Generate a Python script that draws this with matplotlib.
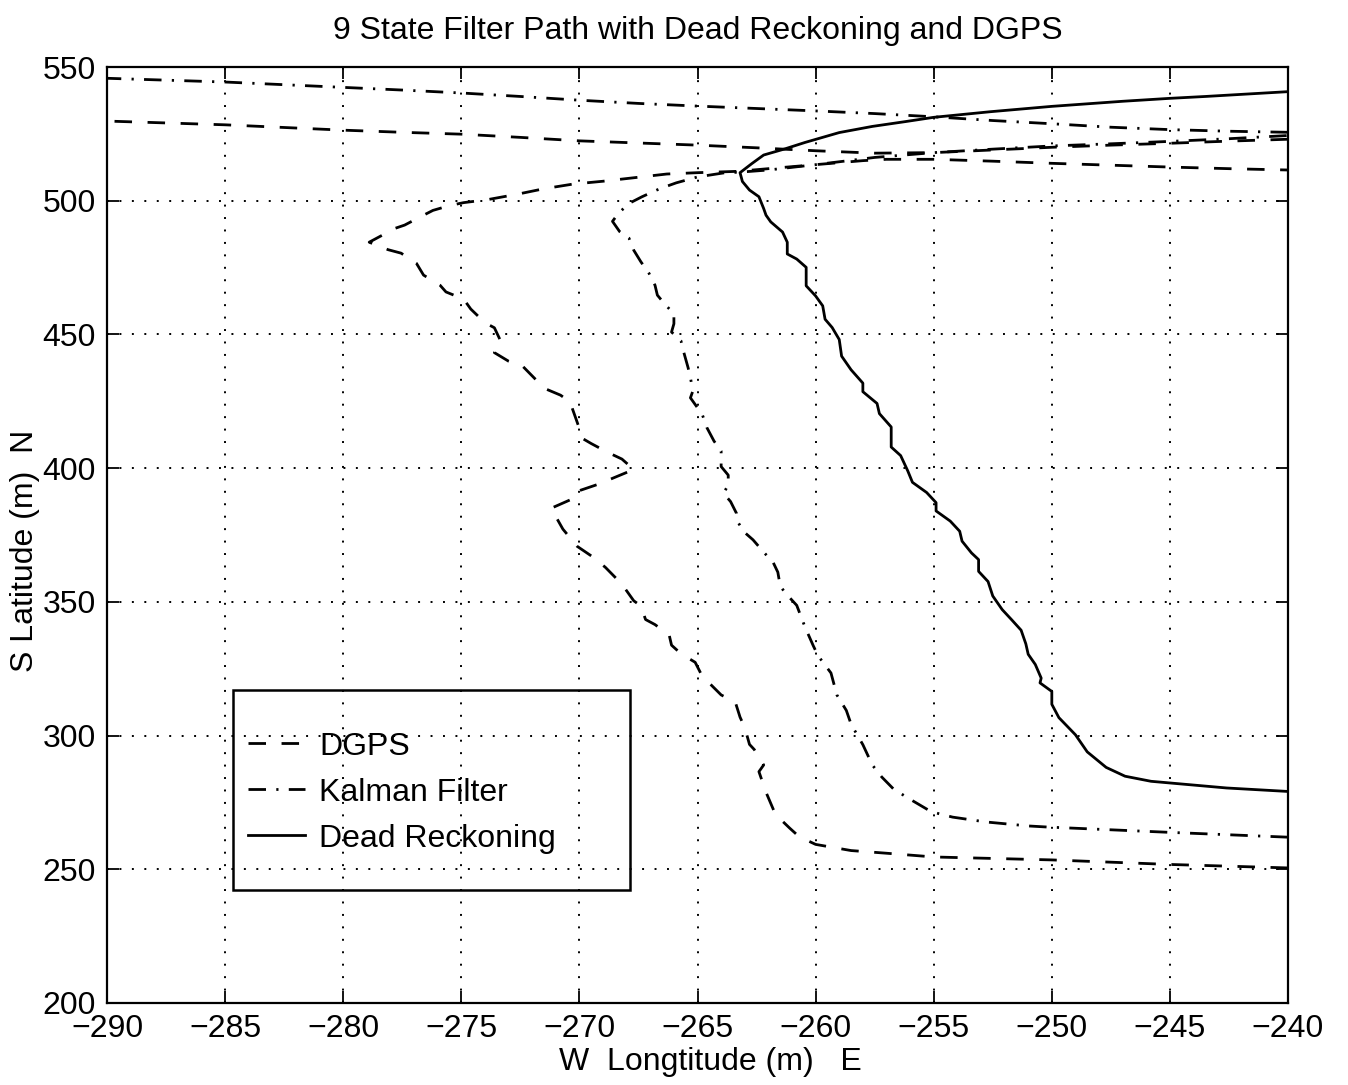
import numpy as np
import matplotlib
matplotlib.use('Agg')
import matplotlib.pyplot as plt
from matplotlib.patches import Rectangle

plt.rcParams['font.family'] = ['Liberation Sans', 'DejaVu Sans']

# -- DGPS track: southern approach, then the leg heading off to the east
dgps_x = [-240, -245, -250, -255, -257, -258.5, -260, -260.7, -261.1, -261.7,
          -262.1, -262.4, -262.2, -262.6, -262.8, -263.0, -263.2, -263.4, -264.0, -264.5,
          -264.8, -265.1, -265.7, -266.1, -266.2, -266.8, -267.2, -267.4, -267.7, -268.2,
          -268.9, -269.4, -270.1, -270.7, -271.2, -270.3, -270.2, -269.2, -267.7, -268.2,
          -268.8, -269.5, -269.85, -270.1, -270.2, -270.4, -270.8, -271.5, -271.9, -272.4,
          -273.0, -273.6, -273.3, -273.6, -274.0, -274.6, -274.9, -275.65, -275.9, -276.6,
          -276.9, -277.55, -278.1, -278.9, -277.8, -277.4, -276.6, -276.2, -275.5, -274.9,
          -273.9, -272.6, -271.5, -270.3, -269.0, -267.7, -266.3, -265.0, -263.3, -262.0,
          -260.0, -258.0, -257.0, -255.0, -252.5, -250.0, -247.5, -245.0, -242.5, -240.0]
dgps_y = [250.5, 251.8, 253.5, 254.6, 256.0, 257.0, 259.3, 262.2, 265.4, 270.5,
          278.8, 286.5, 289.0, 294.8, 296.7, 303.0, 306.9, 312.5, 315.2, 319.6,
          322.2, 327.4, 330.6, 333.8, 337.6, 341.5, 343.4, 348.5, 350.4, 356.6,
          362.9, 366.6, 370.8, 377.2, 385.0, 388.5, 391.0, 394.0, 399.5, 403.4,
          405.9, 409.2, 411.0, 417.3, 419.8, 424.8, 427.3, 429.9, 433.6, 438.1,
          440.0, 443.2, 446.9, 452.5, 454.4, 459.5, 463.2, 465.9, 468.4, 472.2,
          476.6, 480.4, 481.7, 484.5, 489.7, 490.9, 494.6, 496.4, 498.2, 499.3,
          500.4, 502.5, 504.5, 506.2, 507.3, 508.6, 510.0, 510.5, 511.0, 512.0,
          513.5, 515.0, 515.5, 515.5, 514.8, 514.0, 513.3, 512.6, 512.0, 511.5]

# -- DGPS track coming back in from the east
dgps_ret_x = [-240, -242.5, -245, -247.5, -250, -252.5, -255, -257.5, -260, -262.5, -265,
              -267.5, -270, -272.5, -275, -277.5, -280, -282.5, -285, -287.5, -290]
dgps_ret_y = [523.0, 522.3, 521.5, 520.8, 520.0, 519.0, 518.0, 517.8, 518.7, 519.8, 520.8,
              521.6, 522.4, 523.7, 524.9, 525.6, 526.4, 527.4, 528.4, 529.1, 529.8]

# -- Kalman filter estimate
kf_x = [-240, -245, -250.2, -251.0, -252.8, -254.2, -255.1, -255.6, -256.1, -256.7,
        -257.2, -257.6, -258.0, -258.3, -258.5, -258.7, -259.1, -259.35, -259.9, -260.1,
        -260.45, -260.8, -261.3, -261.5, -261.6, -261.8, -262.2, -262.65, -263.05, -263.3,
        -263.35, -263.6, -263.9, -263.7, -263.7, -264.0, -264.0, -264.3, -264.6, -264.8,
        -265.3, -265.2, -265.3, -265.4, -265.6, -265.7, -266.1, -266.0, -266.0, -266.4,
        -266.7, -266.8, -267.05, -267.4, -267.7, -267.9, -268.3, -268.6, -268.35, -267.9,
        -267.35, -266.6, -265.9, -265.0, -263.9, -263.2, -262.0, -260.0, -257.5, -255.0,
        -252.5, -250.0, -247.5, -245.0, -242.5, -240.0]
kf_y = [262.0, 263.8, 265.8, 266.2, 267.7, 269.5, 271.5, 274.1, 276.7, 280.0,
        284.5, 289.0, 296.6, 301.2, 304.3, 309.4, 315.2, 323.4, 329.9, 333.6,
        340.6, 348.7, 353.5, 356.0, 361.1, 364.8, 368.6, 373.2, 376.3, 380.0,
        383.1, 387.5, 390.6, 393.7, 397.4, 400.6, 406.4, 410.1, 415.1, 420.1,
        426.3, 428.8, 433.9, 437.6, 443.9, 447.6, 450.9, 454.0, 457.7, 461.5,
        464.7, 468.4, 472.8, 477.2, 481.5, 486.0, 488.5, 492.3, 495.3, 499.0,
        501.5, 504.5, 506.7, 508.9, 510.4, 510.7, 511.5, 513.5, 516.2, 518.0,
        519.3, 520.5, 521.3, 522.2, 523.2, 524.4]

kf_ret_x = [-240, -242.5, -245, -247.5, -250, -252.5, -255, -257.5, -260, -262.5, -265,
            -267.5, -270, -272.5, -275, -277.5, -280, -282.5, -285, -287.5, -290]
kf_ret_y = [525.6, 526.0, 526.6, 527.5, 528.8, 530.0, 531.4, 532.6, 533.6, 534.5, 535.4,
            536.4, 537.6, 539.0, 540.3, 541.4, 542.4, 543.4, 544.4, 545.1, 545.8]

# -- dead reckoning solution
dr_x = [-240, -242.6, -245.8, -246.9, -247.7, -248.5, -249.0, -249.7, -250.0, -250.0,
        -250.5, -250.45, -250.7, -251.0, -251.1, -251.3, -251.7, -252.1, -252.5, -252.7,
        -253.1, -253.1, -253.4, -253.8, -253.9, -254.3, -254.9, -254.9, -255.3, -255.9,
        -256.1, -256.4, -256.8, -256.8, -257.3, -257.4, -258.0, -258.0, -258.5, -258.9,
        -259.0, -259.3, -259.6, -259.7, -260.0, -260.4, -260.4, -260.8, -261.2, -261.2,
        -261.4, -261.9, -262.1, -262.2, -262.4, -262.8, -263.1, -263.2, -262.7, -262.2,
        -261.3, -260.45, -259.0, -257.6, -256.2, -255.0, -252.6, -250.0, -247.0, -245.0,
        -243.5, -240.0]
dr_y = [279.1, 280.4, 282.9, 284.8, 288.1, 293.9, 300.3, 306.7, 311.7, 316.5,
        319.7, 321.5, 326.6, 330.4, 334.3, 339.4, 343.3, 347.1, 352.2, 357.6,
        361.4, 365.8, 368.3, 372.7, 376.4, 380.2, 384.0, 387.1, 390.9, 394.7,
        399.0, 404.7, 407.9, 415.4, 420.4, 424.2, 428.6, 431.8, 436.8, 441.9,
        448.1, 452.6, 455.7, 460.7, 464.4, 468.2, 475.1, 478.2, 480.1, 484.5,
        488.3, 492.1, 494.6, 497.1, 501.5, 504.0, 507.2, 510.5, 513.9, 517.1,
        519.4, 521.8, 525.5, 527.8, 529.6, 531.2, 533.3, 535.3, 537.2, 538.3,
        539.0, 540.8]

labels = ['DGPS', 'Kalman Filter', 'Dead Reckoning']

#-- line styles (on/off in units of line width)
dash = (0, (6.3, 5.6))
dashdot = (0, (6.3, 3.7, 0.8, 3.7))

fs = 23
fig = plt.figure(figsize=(13.48, 10.85), dpi=100)
ax = fig.add_axes([0.0794, 0.0756, 0.8761, 0.8626])

lw = 2.0
l1, = ax.plot(dgps_x, dgps_y, color='k', lw=lw, linestyle=dash)
ax.plot(dgps_ret_x, dgps_ret_y, color='k', lw=lw, linestyle=dash)
l2, = ax.plot(kf_x, kf_y, color='k', lw=lw, linestyle=dashdot)
ax.plot(kf_ret_x, kf_ret_y, color='k', lw=lw, linestyle=dashdot)
l3, = ax.plot(dr_x, dr_y, color='k', lw=lw, linestyle='-')

ax.set_xlim(-290, -240)
ax.set_ylim(200, 550)
ax.set_xticks(np.arange(-290, -239, 5))
ax.set_yticks(np.arange(200, 551, 50))
ax.grid(True, color='k', linestyle=(0, (1, 5.4)), linewidth=1.4)
ax.tick_params(direction='in', top=True, right=True, length=8.5, width=1.3,
               labelsize=fs, pad=8)
for s in ax.spines.values():
    s.set_linewidth(1.6)

ax.set_title('9 State Filter Path with Dead Reckoning and DGPS', fontsize=fs, pad=20)
ax.set_xlabel('W  Longtitude (m)   E', fontsize=fs)
ax.set_ylabel('S Latitude (m)  N', fontsize=fs)
ax.xaxis.set_label_coords(0.511, -0.047)
ax.yaxis.set_label_coords(-0.057, 0.483)

#-- legend box drawn by hand, no fill so the grid shows through
ax.add_patch(Rectangle((0.1067, 0.1207), 0.3363, 0.2133, transform=ax.transAxes,
                       fill=False, edgecolor='k', lw=1.8, zorder=5))
ax.legend([l1, l2, l3], labels, loc='center left', bbox_to_anchor=(0.119, 0.2248),
          frameon=False, fontsize=fs, handlelength=1.8, handletextpad=0.45,
          labelspacing=0.5, borderpad=0, borderaxespad=0)

fig.savefig('out.png', dpi=100, facecolor='white')
